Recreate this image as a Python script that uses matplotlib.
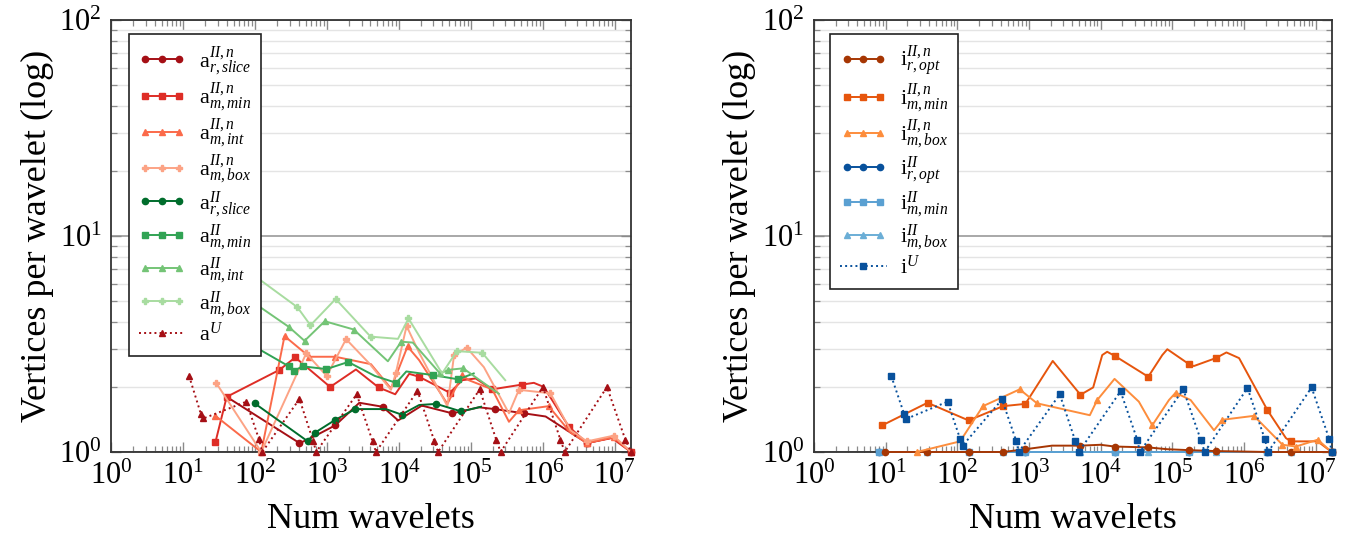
import matplotlib
matplotlib.use('Agg')
import matplotlib.pyplot as plt
from matplotlib.legend_handler import HandlerLine2D
from matplotlib.ticker import LogLocator, NullFormatter

plt.rcParams['font.family'] = 'Liberation Serif'
plt.rcParams['mathtext.fontset'] = 'custom'
plt.rcParams['mathtext.rm'] = 'Liberation Serif'
plt.rcParams['mathtext.it'] = 'Liberation Serif:italic'
plt.rcParams['mathtext.bf'] = 'Liberation Serif:bold'

N_MAX = 2 ** 24

# ---------------- left panel: a-series ----------------
ar_slice_n_x = [40, 411, 566, 1300, 2800, 5890, 9700, 20700, 55000, 129000, 215000, 543000,
                1090000, 2420000, 4100000, 9600000, N_MAX]
ar_slice_n_y = [1.80, 1.10, 1.15, 1.33, 1.69, 1.62, 1.40, 1.64, 1.51, 1.61, 1.58, 1.51,
                1.46, 1.23, 1.10, 1.17, 1.0]

am_min_n_x = [27.9, 40, 217, 359, 1100, 2510, 5180, 8830, 13800, 19000, 50700, 75700, 116000,
              197000, 505000, 748000, 1030000, 2290000, 4100000, 9100000, N_MAX]
am_min_n_y = [1.11, 1.80, 2.40, 2.74, 2.0, 2.41, 1.99, 1.85, 2.30, 2.23, 1.88, 2.15, 2.19,
              1.95, 2.05, 2.09, 2.0, 1.31, 1.10, 1.16, 1.0]

am_int_n_x = [27.9, 121, 255, 566, 1300, 4060, 7700, 13100, 19000, 46900, 75700, 93000, 197000,
              337000, 463000, 1200000, 2420000, 4100000, 9600000, N_MAX]
am_int_n_y = [1.47, 1.0, 3.44, 2.76, 2.76, 2.55, 1.97, 3.08, 2.66, 1.67, 2.27, 2.15, 1.95,
              1.38, 1.56, 1.63, 1.23, 1.10, 1.17, 1.0]

am_box_n_x = [28.8, 121, 510, 984, 1830, 3850, 7700, 9030, 12700, 19000, 46900, 58100, 87100,
              151000, 337000, 463000, 1270000, 2420000, 4100000, 9600000, N_MAX]
am_box_n_y = [2.08, 1.0, 2.86, 2.25, 3.33, 2.57, 1.94, 2.33, 3.83, 2.88, 1.63, 2.81, 3.04,
              2.47, 1.51, 1.94, 1.87, 1.26, 1.12, 1.19, 1.0]

ar_slice_x = [98, 537, 679, 1300, 2460, 6560, 10800, 19000, 33000, 73400, 138000]
ar_slice_y = [1.68, 1.12, 1.23, 1.41, 1.58, 1.58, 1.49, 1.65, 1.67, 1.54, 1.62]

am_min_x = [28, 113, 294, 341, 464, 975, 1960, 4590, 9120, 12600, 29500, 66200, 109000]
am_min_y = [3.9, 2.99, 2.49, 2.38, 2.49, 2.42, 2.61, 2.25, 2.09, 2.36, 2.27, 2.17, 2.31]

am_int_x = [28, 113, 294, 484, 925, 2340, 6980, 10700, 15500, 37100, 48500, 77800, 244000]
am_int_y = [6.5, 4.72, 3.79, 3.27, 4.03, 3.69, 2.63, 3.24, 3.21, 2.31, 2.40, 2.44, 1.86]

am_box_x = [28, 113, 385, 585, 1310, 4010, 9640, 13500, 39600, 63500, 143000, 299000]
am_box_y = [8.9, 6.31, 4.68, 3.86, 5.11, 3.42, 3.34, 4.15, 2.31, 2.93, 2.88, 2.15]

aU_x = [12, 17.5, 19, 75, 112, 125, 411, 640, 702, 2570, 4280, 4770, 18000, 30700, 34800,
        132000, 224000, 258000, 998000, 1750000, 2010000, 7770000, 14000000, N_MAX]
aU_y = [2.25, 1.50, 1.43, 1.71, 1.15, 1.0, 1.76, 1.12, 1.0, 1.85, 1.12, 1.0, 1.92, 1.13, 1.0,
        1.95, 1.14, 1.0, 2.0, 1.14, 1.0, 2.0, 1.14, 1.0]

# ---------------- right panel: i-series ----------------
ir_opt_n_x = [9.8, 38, 143, 433, 888, 2090, 5220, 9930, 15600, 46100, 85100, 171000, 404000,
              2130000, 4520000, 10700000, N_MAX]
ir_opt_n_y = [1.0, 1.0, 1.0, 1.0, 1.03, 1.07, 1.07, 1.08, 1.06, 1.05, 1.03, 1.02, 1.01,
              1.0, 1.0, 1.0, 1.0]

im_min_n_x = [8.97, 38.2, 143, 433, 888, 2140, 5220, 7850, 10500, 12300, 15600, 46100, 72400,
              85100, 171000, 200000, 404000, 569000, 855000, 2130000, 3850000, 4520000,
              10700000, N_MAX]
im_min_n_y = [1.33, 1.69, 1.40, 1.63, 1.67, 2.64, 1.84, 1.99, 2.81, 2.91, 2.79, 2.23, 2.81,
              2.99, 2.55, 2.50, 2.72, 2.89, 2.72, 1.56, 1.16, 1.12, 1.12, 1.0]

im_box_n_x = [27.1, 109, 227, 739, 1290, 7050, 8940, 15600, 34100, 52500, 89700, 111000,
              180000, 382000, 500000, 1380000, 3450000, 5310000, 10700000, N_MAX]
im_box_n_y = [1.0, 1.12, 1.63, 1.95, 1.68, 1.48, 1.74, 2.18, 1.71, 1.33, 1.74, 1.88,
              1.74, 1.26, 1.41, 1.47, 1.08, 1.06, 1.14, 1.0]

i_flat_x = [8.05, 38, 143, 433, 888, 5220, 15600, 46100, 171000, 404000, 2130000, 4520000, N_MAX]
i_flat_y = [1.0] * len(i_flat_x)

iU_x = [11.9, 18, 19, 72.7, 109, 118, 419, 664, 716, 2680, 4440, 4940, 18900, 32400, 35200,
        142000, 249000, 283000, 1120000, 1950000, 2170000, 8790000, 15500000, N_MAX]
iU_y = [2.25, 1.50, 1.42, 1.71, 1.15, 1.07, 1.75, 1.12, 1.0, 1.85, 1.12, 1.0, 1.91, 1.14, 1.0,
        1.95, 1.14, 1.0, 1.98, 1.15, 1.0, 1.99, 1.15, 1.0]


fig = plt.figure(figsize=(13.48, 5.37), dpi=100)
ax1 = fig.add_axes([0.0827, 0.1583, 0.3854, 0.8045])
ax2 = fig.add_axes([0.604, 0.1583, 0.3839, 0.8045])


def series(ax, x, y, color, marker, label, every=None, ls='-', ms=4.5):
    ax.plot(x, y, color=color, marker=marker, ls=ls, lw=1.4, ms=ms, markevery=every,
            label=label, clip_on=False, zorder=3)


# left panel
series(ax1, ar_slice_n_x, ar_slice_n_y, '#a50f15', 'o', r'$\mathrm{a}^{II,n}_{r,slice}$',
       [1, 3, 5, 8, 10, 11, 14, 16])
series(ax1, am_min_n_x, am_min_n_y, '#de2d26', 's', r'$\mathrm{a}^{II,n}_{m,min}$',
       [0, 1, 2, 3, 4, 6, 9, 10, 13, 14, 17, 18, 20])
series(ax1, am_int_n_x, am_int_n_y, '#fb6a4a', '^', r'$\mathrm{a}^{II,n}_{m,int}$',
       [0, 1, 2, 3, 4, 7, 10, 14, 15, 17, 18])
series(ax1, am_box_n_x, am_box_n_y, '#fca385', 'P', r'$\mathrm{a}^{II,n}_{m,box}$',
       [0, 1, 2, 3, 4, 7, 8, 11, 12, 15, 16, 18, 19])
series(ax1, ar_slice_x, ar_slice_y, '#006d2c', 'o', r'$\mathrm{a}^{II}_{r,slice}$',
       [0, 1, 2, 3, 4, 6, 8, 9])
series(ax1, am_min_x, am_min_y, '#31a354', 's', r'$\mathrm{a}^{II}_{m,min}$',
       [2, 3, 4, 5, 6, 8, 10, 11])
series(ax1, am_int_x, am_int_y, '#74c476', '^', r'$\mathrm{a}^{II}_{m,int}$',
       [2, 3, 4, 5, 7, 9, 10, 11])
series(ax1, am_box_x, am_box_y, '#a8dca0', 'P', r'$\mathrm{a}^{II}_{m,box}$',
       [2, 3, 4, 5, 7, 9, 10])
series(ax1, aU_x, aU_y, '#a50f15', '^', r'$\mathrm{a}^{U}$', None, ls=':', ms=4)

# right panel
series(ax2, i_flat_x, i_flat_y, '#08519c', 'o', r'$\mathrm{i}^{II}_{r,opt}$', [0, 2, 4, 6, 8, 10, 12])
series(ax2, i_flat_x, i_flat_y, '#6baed6', '^', r'$\mathrm{i}^{II}_{m,box}$', [1, 3, 5, 7, 9, 11])
series(ax2, i_flat_x, i_flat_y, '#5aa0d2', 's', r'$\mathrm{i}^{II}_{m,min}$', [0, 2, 4, 6, 8, 10, 12])
series(ax2, ir_opt_n_x, ir_opt_n_y, '#a63603', 'o', r'$\mathrm{i}^{II,n}_{r,opt}$',
       [0, 1, 2, 3, 4, 6, 8, 9, 11, 12, 14, 16])
series(ax2, im_min_n_x, im_min_n_y, '#e6550d', 's', r'$\mathrm{i}^{II,n}_{m,min}$',
       [0, 1, 2, 3, 4, 6, 10, 11, 14, 16, 19, 21, 23])
series(ax2, im_box_n_x, im_box_n_y, '#fd8d3c', '^', r'$\mathrm{i}^{II,n}_{m,box}$',
       [0, 2, 3, 4, 6, 9, 11, 14, 15, 16, 17, 18])
series(ax2, iU_x, iU_y, '#08519c', 's', r'$\mathrm{i}^{U}$', None, ls=':', ms=4)

for ax in (ax1, ax2):
    ax.set_xscale('log')
    ax.set_yscale('log')
    ax.set_xlim(1, N_MAX)
    ax.set_ylim(1, 100)
    ax.xaxis.set_major_locator(LogLocator(base=10, numticks=12))
    ax.xaxis.set_minor_locator(LogLocator(base=10, subs=range(2, 10), numticks=12))
    ax.xaxis.set_minor_formatter(NullFormatter())
    ax.yaxis.set_minor_formatter(NullFormatter())
    ax.grid(True, which='minor', axis='y', color='#e4e4e4', lw=1.0, zorder=0)
    ax.grid(True, which='major', axis='y', color='#a8a8a8', lw=1.4, zorder=0)
    ax.set_axisbelow(True)
    ax.tick_params(which='both', direction='in', top=True, right=True, color='#8a8a8a',
                   labelsize=22, pad=7)
    ax.tick_params(which='major', length=7, width=1.0)
    ax.tick_params(which='minor', length=4, width=0.9)
    for s in ax.spines.values():
        s.set_color('#333333')
        s.set_linewidth(1.3)
    ax.set_xlabel('Num wavelets', fontsize=26, labelpad=9)
    ax.set_ylabel('Vertices per wavelet (log)', fontsize=26, labelpad=4)

single = {}
for ax in (ax1, ax2):
    for ln in ax.get_lines():
        if ln.get_linestyle() == ':':
            single[ln] = HandlerLine2D(numpoints=1)

# legend order of the right panel follows the reference
h2, l2 = ax2.get_legend_handles_labels()
order = [3, 4, 5, 0, 2, 1, 6]
h2 = [h2[i] for i in order]
l2 = [l2[i] for i in order]

leg_style = dict(loc='upper left', borderaxespad=0, fontsize=16, numpoints=3,
                 handlelength=2.1, labelspacing=0.12, borderpad=0.45, handletextpad=0.6,
                 fancybox=False, framealpha=1, edgecolor='#222222', handler_map=single)
leg1 = ax1.legend(bbox_to_anchor=(0.033, 0.967), **leg_style)
leg2 = ax2.legend(h2, l2, bbox_to_anchor=(0.0305, 0.967), **leg_style)
for leg in (leg1, leg2):
    leg.get_frame().set_linewidth(1.2)
    leg.set_zorder(10)

plt.savefig('out.png', dpi=100)
